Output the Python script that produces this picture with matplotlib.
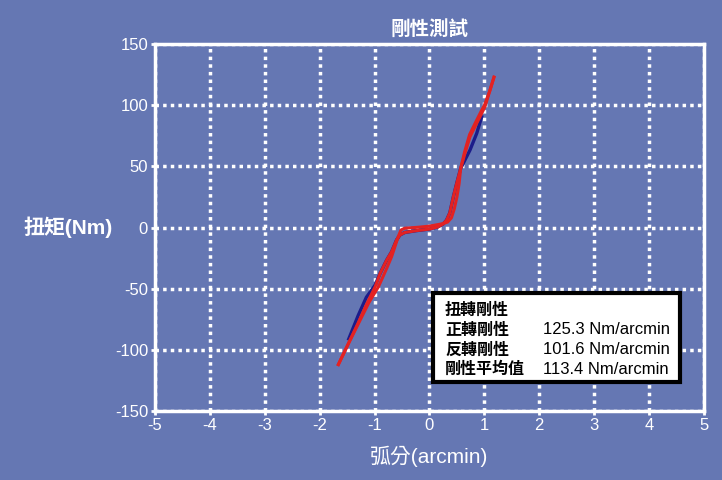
import matplotlib
matplotlib.use("Agg")
import matplotlib.pyplot as plt
from matplotlib.patches import Rectangle

plt.rcParams['font.family'] = ['Liberation Sans', 'Noto Sans CJK TC']
plt.rcParams['axes.unicode_minus'] = False

BG = '#6577b3'
CJK = ['Noto Sans CJK TC', 'DejaVu Sans']

# forward / reverse branches of the torsion loop (arcmin, Nm)
up_x = [-1.66, -1.5, -1.3, -1.15, -0.99, -0.9, -0.78, -0.69, -0.6, -0.54, -0.45, -0.24, 0.0,
        0.15, 0.25, 0.31, 0.37, 0.434, 0.495, 0.568, 0.647, 0.738, 0.86, 0.951, 1.01, 1.1, 1.175]
up_y = [-112, -97, -78, -63, -48.4, -37.5, -26.6, -19.8, -10.2, -6.1, -4, -2.5, -1.2,
        0.5, 3, 6, 12, 25, 36, 48.4, 60.7, 74.3, 85.2, 93.4, 98.8, 112, 123]
down_x = [1.175, 1.1, 1.0, 0.94, 0.85, 0.73, 0.64, 0.568, 0.54, 0.5, 0.45, 0.4, 0.33, 0.22,
          0.0, -0.2, -0.45, -0.52, -0.57, -0.63, -0.69, -0.78, -0.93, -1.1, -1.3, -1.5, -1.66]
down_y = [123, 112, 100, 95, 87, 76, 62, 48.4, 36, 25, 15, 8, 4.5, 3,
          1.2, 0.3, -0.5, -2, -7.5, -15.7, -23.8, -33.4, -48.4, -61, -79, -97, -112]
# first loading run
run_x = [-1.47, -1.3, -1.15, -0.99, -0.9, -0.78, -0.69, -0.6, -0.54, -0.45, -0.24, 0.0,
         0.15, 0.25, 0.31, 0.37, 0.434, 0.495, 0.568, 0.738, 0.86, 0.951]
run_y = [-91, -72, -57, -47, -37.5, -26.6, -19.8, -10.2, -6.1, -4, -2.5, -1.2,
         0.5, 3, 6, 12, 25, 36, 48.4, 63.4, 77, 90.6]

x_ticks = [-5, -4, -3, -2, -1, 0, 1, 2, 3, 4, 5]
y_ticks = [-150, -100, -50, 0, 50, 100, 150]

rows = ['扭轉剛性', '正轉剛性', '反轉剛性', '剛性平均值']
values = ['', '125.3 Nm/arcmin', '101.6 Nm/arcmin', '113.4 Nm/arcmin']

fig = plt.figure(figsize=(7.22, 4.8), dpi=100, facecolor=BG)
ax = fig.add_axes([0.2147, 0.1437, 0.7603, 0.7643], facecolor=BG)

ax.plot(run_x, run_y, color='#1c1c8a', lw=2.4, zorder=3)
ax.plot(up_x, up_y, color='#e32222', lw=2.2, zorder=4)
ax.plot(down_x, down_y, color='#e32222', lw=2.2, zorder=4)

ax.set_xlim(-5, 5)
ax.set_ylim(-150, 150)
ax.set_xticks(x_ticks)
ax.set_yticks(y_ticks)
ax.grid(True, color='white', lw=2.5, linestyle=(0, (1, 1.2)))
ax.set_axisbelow(True)
for s in ax.spines.values():
    s.set_color('white')
    s.set_linewidth(2.5)
ax.tick_params(colors='white', labelsize=12, length=3, width=2, pad=2)

ax.set_title('剛性測試', color='white', fontsize=14, fontweight='bold', pad=7, family=CJK)
ax.set_xlabel('弧分(arcmin)', color='white', fontsize=15, labelpad=9)
fig.text(0.094, 0.527, '扭矩(Nm)', color='white', fontsize=15,
         fontweight='bold', ha='center', va='center')

# stiffness summary box
ax.add_patch(Rectangle((0.506, 0.079), 0.45, 0.2425, transform=ax.transAxes,
                       facecolor='white', edgecolor='black', lw=3, zorder=6))
for i, (name, val) in enumerate(zip(rows, values)):
    yy = 1 - (310 + i * 19.7) / 480
    fig.text(445 / 722, yy, name, color='black', fontsize=11.5,
             fontweight='bold', va='center', zorder=7, family=CJK)
    fig.text(543 / 722, yy, val, color='black', fontsize=12,
             va='center', zorder=7)

fig.savefig('out.png', dpi=100, facecolor=BG)
